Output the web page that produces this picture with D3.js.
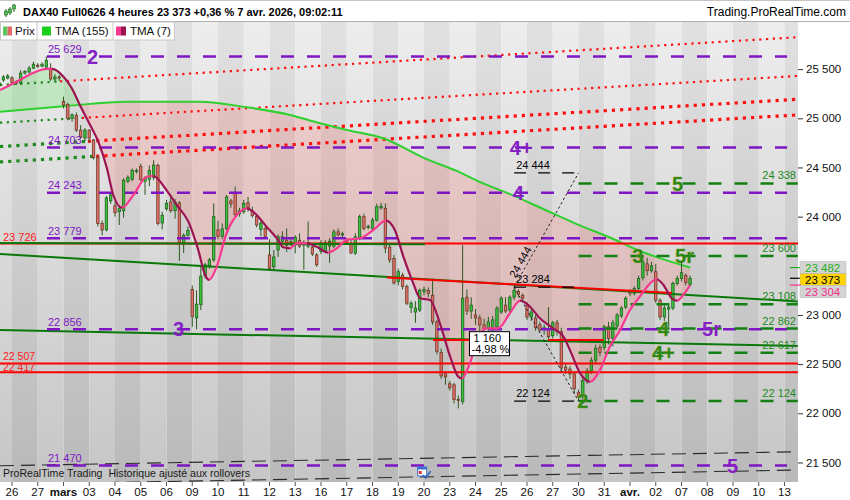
<!DOCTYPE html>
<html lang="fr">
<head>
<meta charset="utf-8">
<title>DAX40 Full0626 4 heures</title>
<script src="https://cdn.jsdelivr.net/npm/d3@7/dist/d3.min.js"></script>
<style>
  body { margin: 0; background: #fff; }
  svg { display: block; font-family: "Liberation Sans", Arial, sans-serif; }
</style>
</head>
<body>
<svg id="chart" width="850" height="500"></svg>
<script>
// ---- values ----
var title = "DAX40 Full0626 4 heures 23 373 +0,36 % 7 avr. 2026, 09:02:11";
var site = "Trading.ProRealTime.com";
var footer = "ProRealTime Trading  Historique ajusté aux rollovers";

// 4 hour bars, 6 per trading day, bar 0 = first bar of 25 Feb
var firstBar = 3;
// [open, high, low, close]
var candles = [
  [25330,25380,25300,25360],[25390,25440,25370,25420],[25410,25450,25395,25430],
  // 26 feb
  [25410,25430,25340,25360],[25375,25390,25340,25355],[25360,25490,25340,25460],
  [25460,25490,25445,25475],[25470,25530,25460,25510],[25510,25575,25500,25550],
  // 27 feb
  [25540,25560,25510,25530],[25530,25570,25520,25550],[25520,25629,25500,25590],
  [25510,25560,25380,25400],[25400,25450,25380,25420],[25420,25440,25380,25410],
  // 2 mars
  [25170,25220,25100,25135],[25140,25160,24980,25000],[25000,25050,24965,25035],
  [25030,25060,24860,24880],[24880,24930,24790,24810],[24800,24900,24770,24880],
  // 3
  [24880,24890,24760,24800],[24780,24790,24580,24600],[24600,24620,23900,23930],
  [23930,23960,23810,23865],[23865,24210,23850,24190],[24160,24240,24130,24220],
  // 4
  [24110,24150,24000,24040],[24050,24110,23915,24080],[24060,24390,23990,24370],
  [24360,24420,24340,24400],[24380,24490,24360,24470],[24460,24490,24440,24470],
  // 5
  [24510,24540,24360,24380],[24360,24410,24220,24390],[24380,24520,24310,24470],
  [24400,24575,24370,24525],[24520,24540,23910,23930],[23935,24050,23870,24015],
  // 6
  [24080,24170,24060,24135],[24150,24220,24040,24060],[24060,24180,23980,24145],
  [24140,24160,23550,23730],[23730,23830,23630,23810],[23810,23900,23800,23860],
  // 9
  [23260,23300,22880,22985],[22970,23250,22856,23110],[23105,23505,23050,23395],
  [23400,23530,23370,23510],[23500,23580,23470,23560],[23560,24135,23540,24000],
  // 10
  [23865,23960,23770,23800],[23800,23930,23770,23875],[23880,24220,23860,24200],
  [24160,24180,24090,24130],[24240,24305,24000,24020],[24030,24090,24000,24060],
  // 11
  [24050,24170,24030,24135],[24140,24200,24050,24090],[24060,24100,23990,24010],
  [24000,24020,23890,23915],[23870,23960,23800,23935],[23880,23900,23780,23800],
  // 12
  [23610,23770,23460,23475],[23490,23660,23450,23590],[23660,23820,23590,23795],
  [23750,23850,23720,23795],[23760,23880,23640,23710],[23720,23770,23700,23745],
  // 13
  [23712,23810,23627,23790],[23760,23830,23680,23700],[23710,23760,23460,23730],
  [23700,23950,23680,23735],[23690,23720,23600,23620],[23610,23630,23490,23510],
  // 16
  [23645,23760,23620,23730],[23650,23760,23630,23735],[23700,23780,23530,23750],
  [23700,23870,23680,23845],[23845,23880,23800,23815],[23815,23845,23790,23825],
  // 17
  [23760,23780,23720,23740],[23730,23760,23620,23630],[23630,23830,23610,23795],
  [23780,24020,23760,24000],[24000,24030,23860,23880],[23890,23920,23870,23900],
  // 18
  [23880,23990,23860,23965],[23965,24130,23950,24100],[24090,24140,24070,24105],
  [24085,24135,23630,23680],[23690,23710,23530,23560],[23575,23610,23310,23325],
  // 19
  [23340,23470,23300,23440],[23405,23430,23260,23290],[23290,23310,23100,23120],
  [23075,23140,23020,23120],[23030,23140,22920,23070],[23050,23270,23030,23250],
  // 20
  [23240,23290,23200,23260],[23250,23280,23180,23220],[23200,23370,22900,22930],
  [22930,22950,22600,22630],[22620,22660,22350,22380],[22400,22430,22290,22370],
  // 23
  [22300,22330,22230,22260],[22290,22310,22100,22140],[22140,22180,22050,22130],
  [22120,23710,22090,23170],[23180,23260,23000,23040],[23040,23180,22960,23100],
  // 24
  [23000,23060,22900,22970],[22970,23000,22830,22900],[22900,22960,22780,22860],
  [22860,22980,22800,22930],[22850,22990,22820,22950],[22880,23090,22860,23070],
  // 25
  [23030,23190,23010,23170],[23100,23180,23020,23040],[23050,23200,23030,23180],
  [23180,23284,23150,23250],[23240,23260,23180,23210],[23200,23220,23130,23170],
  // 26
  [23100,23130,22950,22980],[22980,23060,22940,23030],[22970,23000,22840,22870],
  [22900,22930,22820,22850],[22850,22900,22800,22870],[22850,23080,22750,22780],
  // 27
  [22790,22940,22760,22920],[22920,22950,22790,22830],[22830,22870,22430,22460],
  [22470,22500,22400,22440],[22450,22480,22350,22400],[22400,22420,22200,22250],
  // 30
  [22210,22240,22124,22170],[22170,22360,22140,22330],[22330,22460,22300,22430],
  [22430,22570,22400,22540],[22540,22700,22510,22660],[22670,22700,22580,22620],
  // 31
  [22670,22900,22640,22880],[22880,22930,22700,22760],[22760,22950,22680,22920],
  [22890,23020,22870,23000],[22990,23090,22970,23070],[23080,23190,23060,23170],
  // 1 avr
  [23250,23260,23190,23220],[23220,23290,23200,23270],[23270,23400,23250,23370],
  [23380,23600,23350,23540],[23520,23580,23400,23450],[23450,23540,23430,23500],
  // 2
  [23440,23520,23120,23150],[23150,23170,22950,22980],[22980,23100,22940,23070],
  [23060,23110,22880,23080],[23070,23340,23050,23320],[23320,23400,23300,23370],
  // 7
  [23370,23530,23340,23430],[23400,23420,23300,23330],[23310,23400,23290,23373]
];

var dayLabels = ["26","27","mars","03","04","05","06","09","10","11","12","13","16","17","18",
  "19","20","23","24","25","26","27","30","31","avr.","02","07","08","09","10","13"];
var monthLabels = ["mars", "avr."];
var priceTicks = [21500, 22000, 22500, 23000, 24000, 24500, 25000, 25500];

// [bar, value]
var tma155 = [[3.2,25067],[18.7,25125],[32.7,25169],[49.8,25169],[60.7,25112],[70.8,25034],
  [77.8,24949],[84.0,24881],[92.5,24797],[102.2,24593],[110.0,24457],[115.4,24345],[121.6,24237],
  [129.4,24085],[137.2,23932],[145.7,23780],[152.7,23643],[158.2,23560],[164.0,23482]];
var tma7 = [[3.2,25288],[7.1,25372],[10.9,25461],[14.1,25502],[15.3,25502],[18.0,25423],[19.9,25308],
  [21.8,25136],[24.2,24932],[26.1,24763],[28.1,24495],[29.6,24220],[31.6,24091],[34.3,24220],
  [37.4,24406],[38.9,24413],[42.0,24270],[44.4,24117],[47.1,23949],[49.4,23661],[51.0,23407],
  [51.9,23356],[53.7,23491],[56.0,23831],[58.4,24017],[60.7,24085],[62.6,24034],[65.3,23898],
  [68.0,23763],[69.2,23688],[70.8,23678],[72.3,23729],[74.7,23729],[77.0,23694],[79.7,23633],
  [81.7,23678],[84.0,23763],[87.1,23780],[90.2,23864],[93.1,23959],[95.2,23864],[97.2,23593],
  [99.5,23322],[101.1,23170],[103.4,23152],[105.7,22915],[108.1,22576],[110.0,22372],[110.8,22356],
  [112.7,22509],[114.7,22779],[116.6,22864],[119.3,22864],[122.0,23017],[124.4,23145],[126.7,23084],
  [129.0,22966],[132.1,22864],[134.5,22779],[136.0,22644],[138.4,22407],[140.7,22321],[143.0,22440],
  [145.3,22677],[147.7,22847],[150.0,23051],[152.3,23186],[154.7,23322],[156.2,23363],[157.8,23305],
  [159.7,23170],[160.9,23145],[162.4,23203],[164.0,23304]];

var purpleLevels = [25629, 24703, 24243, 23779, 22856, 21470];
var purpleSpan = [14.15, 186.6];
var greenLevels = [24338, 23600, 23108, 22862, 22617, 22124];
var greenSpan = [138, 189.1];
var redLevels = [23726, 22507, 22417];

// [text, bar, value]
var purpleWaves = [["2",23.5,25629],["4+",122.0,24703],["4",122.7,24243],["3",43.5,22856],
  ["5r",166.8,22856],["5",172.6,21470]];
var greenWaves = [["5",159.8,24338],["3",150.5,23600],["5r",160.5,23600],["4",156.5,22862],
  ["4+",155.1,22617],["2",137.7,22124]];

var measure = { from: 123, to: 138, base: 23284, low: 22124, target: 24444, boxBar: 112.6, boxValue: 22830 };

// [bar0, value0, bar1, value1]
var greenTrends = [[3.2,23620,189.1,23137],[3.2,22847,189.1,22684],[3.2,23733,102.2,23718]];
var redTrends = [[93.4,23381,159.8,23223],[104.1,22745,114.3,22745],[130.9,22745,143.9,22745]];
// [bar0, value0, bar1, value1, bar where colour turns from green to red]
var dottedLines = [[3.2,25339,188.9,25824,17.2],[3.2,24955,188.9,25430,22.3],
  [3.2,24713,188.9,25193,23.7],[3.2,24556,188.9,25034,25.6]];
var channelLines = [[3.2,21467,189.1,21609],[3.2,21275,189.1,21423]];

var lastTma155 = 23482, lastPrice = 23373, lastTma7 = 23304;

// ---- layout ----
var plot = { l: 0, r: 798, t: 22, b: 482 };
var svg = d3.select("#chart");
var fmt = d3.formatLocale({ decimal: ",", thousands: " ", grouping: [3], currency: ["", ""] }).format(",d");

var x = d3.scaleLinear().domain([6, 186]).range([12, 784.5]);
var y = d3.scaleLinear().domain([22000, 25000]).range([413.3, 118.3]);

var purple = "#7e16c4", dkGreen = "#128012", waveGreen = "#23880f";

var defs = svg.append("defs");
defs.append("clipPath").attr("id", "plotClip").append("rect")
  .attr("x", plot.l).attr("y", plot.t).attr("width", plot.r - plot.l).attr("height", plot.b - plot.t);

function band(id, top, bottom) {
  var g = defs.append("linearGradient").attr("id", id)
    .attr("gradientUnits", "userSpaceOnUse").attr("x1", 0).attr("y1", plot.t).attr("x2", 0).attr("y2", plot.b);
  g.append("stop").attr("offset", 0).attr("stop-color", top);
  g.append("stop").attr("offset", 1).attr("stop-color", bottom);
}
band("bandLight", "#ededed", "#c6c6c6");
band("bandDark", "#e1e1e1", "#b9b9b9");

var curve = d3.curveMonotoneX;
defs.append("clipPath").attr("id", "aboveSlow").append("path")
  .attr("d", d3.area().x(function(d) { return x(d[0]); }).y0(plot.t).y1(function(d) { return y(d[1]); }).curve(curve)(tma155));
defs.append("clipPath").attr("id", "aboveFast").append("path")
  .attr("d", d3.area().x(function(d) { return x(d[0]); }).y0(plot.t).y1(function(d) { return y(d[1]); }).curve(curve)(tma7));

// TMA(7) colour: pink while rising, maroon while falling
var rising = "#f7398f", falling = "#9c1352";
var grad = defs.append("linearGradient").attr("id", "tma7Color")
  .attr("gradientUnits", "userSpaceOnUse").attr("x1", plot.l).attr("y1", 0).attr("x2", plot.r).attr("y2", 0);
var dirs = [];
for (var k = 1; k < tma7.length; k++) {
  var dv = tma7[k][1] - tma7[k - 1][1];
  dirs.push(dv > 0 ? 1 : dv < 0 ? -1 : (dirs.length ? dirs[dirs.length - 1] : 1));
}
grad.append("stop").attr("offset", 0).attr("stop-color", dirs[0] > 0 ? rising : falling);
for (var k = 1; k < dirs.length; k++) {
  if (dirs[k] !== dirs[k - 1]) {
    var off = x(tma7[k][0]) / plot.r;
    grad.append("stop").attr("offset", off).attr("stop-color", dirs[k - 1] > 0 ? rising : falling);
    grad.append("stop").attr("offset", off).attr("stop-color", dirs[k] > 0 ? rising : falling);
  }
}
grad.append("stop").attr("offset", 1).attr("stop-color", dirs[dirs.length - 1] > 0 ? rising : falling);

// ---- plot area ----
var g = svg.append("g").attr("clip-path", "url(#plotClip)");

// day bands
d3.range(0, 32).forEach(function(k) {
  var x0 = Math.max(plot.l, x(6 * k)), x1 = Math.min(plot.r, x(6 * k + 6));
  if (x1 <= x0) return;
  g.append("rect").attr("x", x0).attr("y", plot.t).attr("width", x1 - x0).attr("height", plot.b - plot.t)
    .attr("fill", k % 2 === 0 ? "url(#bandLight)" : "url(#bandDark)");
});

// fill between the two averages
g.append("path")
  .attr("d", d3.area().x(function(d) { return x(d[0]); }).y0(plot.b).y1(function(d) { return y(d[1]); }).curve(curve)(tma7))
  .attr("clip-path", "url(#aboveSlow)")
  .attr("fill", "rgba(70,225,70,0.24)");
g.append("path")
  .attr("d", d3.area().x(function(d) { return x(d[0]); }).y0(plot.b).y1(function(d) { return y(d[1]); }).curve(curve)(tma155))
  .attr("clip-path", "url(#aboveFast)")
  .attr("fill", "rgba(255,105,105,0.22)");

// dotted sloping lines, green then red
dottedLines.forEach(function(l, k) {
  var slope = (l[3] - l[1]) / (l[2] - l[0]);
  var vs = l[1] + slope * (l[4] - l[0]);
  var w = k >= 2 ? 3.2 : 2.2, dash = k >= 2 ? "3.2,5" : "2.2,4.6";
  g.append("line").attr("x1", x(l[0])).attr("y1", y(l[1])).attr("x2", x(l[4])).attr("y2", y(vs))
    .attr("stroke", "#1c8a1c").attr("stroke-width", w).attr("stroke-dasharray", dash);
  g.append("line").attr("x1", x(l[4])).attr("y1", y(vs)).attr("x2", x(l[2])).attr("y2", y(l[3]))
    .attr("stroke", "#ff1010").attr("stroke-width", w).attr("stroke-dasharray", dash);
});

// bottom channel
channelLines.forEach(function(l) {
  g.append("line").attr("x1", x(l[0])).attr("y1", y(l[1])).attr("x2", x(l[2])).attr("y2", y(l[3]))
    .attr("stroke", "#2a2a2a").attr("stroke-width", 1.1).attr("stroke-dasharray", "14,7");
});

// TMA(155)
g.append("path").datum(tma155)
  .attr("d", d3.line().x(function(d) { return x(d[0]); }).y(function(d) { return y(d[1]); }).curve(curve))
  .attr("fill", "none").attr("stroke", "#2ed02e").attr("stroke-width", 2);

// candles
var cw = 2.4;
candles.forEach(function(c, j) {
  var cx = x(firstBar + j), up = c[3] >= c[0];
  g.append("line").attr("x1", cx).attr("x2", cx).attr("y1", y(c[1])).attr("y2", y(c[2]))
    .attr("stroke", "#2b5a1f").attr("stroke-width", 1);
  var top = y(Math.max(c[0], c[3])), bot = y(Math.min(c[0], c[3]));
  g.append("rect").attr("x", cx - cw / 2).attr("y", top).attr("width", cw).attr("height", Math.max(1, bot - top))
    .attr("fill", up ? "#3cc23c" : "#e4706a")
    .attr("stroke", up ? "#1d641d" : "#6a3a26").attr("stroke-width", 0.8);
});

// horizontal levels
redLevels.forEach(function(v) {
  g.append("line").attr("x1", plot.l).attr("x2", plot.r).attr("y1", y(v)).attr("y2", y(v))
    .attr("stroke", "#ff0000").attr("stroke-width", 2);
});
greenTrends.forEach(function(l) {
  g.append("line").attr("x1", x(l[0])).attr("y1", y(l[1])).attr("x2", x(l[2])).attr("y2", y(l[3]))
    .attr("stroke", "#0a780a").attr("stroke-width", 2);
});
redTrends.forEach(function(l) {
  g.append("line").attr("x1", x(l[0])).attr("y1", y(l[1])).attr("x2", x(l[2])).attr("y2", y(l[3]))
    .attr("stroke", "#ff0000").attr("stroke-width", 2);
});
purpleLevels.forEach(function(v) {
  g.append("line").attr("x1", x(purpleSpan[0])).attr("x2", x(purpleSpan[1])).attr("y1", y(v)).attr("y2", y(v))
    .attr("stroke", purple).attr("stroke-width", 2.5).attr("stroke-dasharray", "13,13");
});
greenLevels.forEach(function(v) {
  g.append("line").attr("x1", x(greenSpan[0])).attr("x2", x(greenSpan[1])).attr("y1", y(v)).attr("y2", y(v))
    .attr("stroke", dkGreen).attr("stroke-width", 2.5).attr("stroke-dasharray", "13,13");
});

// measurement: dotted legs and black dashed targets
[measure.target, measure.low].forEach(function(v) {
  g.append("line").attr("x1", x(measure.from)).attr("y1", y(measure.base)).attr("x2", x(measure.to)).attr("y2", y(v))
    .attr("stroke", "#222").attr("stroke-width", 1).attr("stroke-dasharray", "2.5,2.5");
});
[measure.target, measure.base, measure.low].forEach(function(v) {
  g.append("line").attr("x1", x(measure.from)).attr("x2", x(measure.to)).attr("y1", y(v)).attr("y2", y(v))
    .attr("stroke", "#000").attr("stroke-width", 1.2).attr("stroke-dasharray", "12,12");
  g.append("text").attr("x", x(measure.from) + 2).attr("y", y(v) - 4)
    .attr("font-size", 11).attr("fill", "#000").text(fmt(v));
});
var ang = Math.atan2(y(measure.target) - y(measure.base), x(measure.to) - x(measure.from)) * 180 / Math.PI;
var lx = x(measure.from) + 0.19 * (x(measure.to) - x(measure.from));
var ly = y(measure.base) + 0.19 * (y(measure.target) - y(measure.base));
g.append("text").attr("transform", "translate(" + lx + "," + ly + ") rotate(" + ang + ")")
  .attr("text-anchor", "middle").attr("dy", -3).attr("font-size", 11).attr("fill", "#000").text(fmt(measure.target));

// TMA(7)
g.append("path").datum(tma7)
  .attr("d", d3.line().x(function(d) { return x(d[0]); }).y(function(d) { return y(d[1]); }).curve(curve))
  .attr("fill", "none").attr("stroke", "url(#tma7Color)").attr("stroke-width", 2.2);

// measurement box
var diff = measure.base - measure.low;
var pct = (-diff / measure.base * 100).toFixed(2).replace(".", ",") + " %";
var bx = x(measure.boxBar), by = y(measure.boxValue);
g.append("rect").attr("x", bx).attr("y", by).attr("width", 40).attr("height", 24)
  .attr("fill", "#fff").attr("stroke", "#000").attr("stroke-width", 1);
g.append("text").attr("x", bx + 4).attr("y", by + 10).attr("font-size", 11).text(fmt(diff));
g.append("text").attr("x", bx + 2).attr("y", by + 21).attr("font-size", 11).text(pct);

// level labels
purpleLevels.forEach(function(v) {
  g.append("text").attr("x", x(purpleSpan[0]) + 1).attr("y", y(v) - 3.5)
    .attr("font-size", 11).attr("fill", purple).text(fmt(v));
});
redLevels.forEach(function(v, k) {
  g.append("text").attr("x", 3).attr("y", y(v) - (k === 2 ? 1 : 3))
    .attr("font-size", k === 0 ? 11 : 10.5).attr("fill", "#ff1a1a").text(fmt(v));
});
greenLevels.forEach(function(v) {
  g.append("text").attr("x", plot.r - 2).attr("y", y(v) - 4).attr("text-anchor", "end")
    .attr("font-size", 11).attr("fill", "#1b8a1b").text(fmt(v));
});
purpleWaves.forEach(function(w) {
  g.append("text").attr("x", x(w[1])).attr("y", y(w[2])).attr("dy", "0.36em")
    .attr("font-size", 20).attr("font-weight", "bold").attr("fill", "#8420c4").text(w[0]);
});
greenWaves.forEach(function(w) {
  g.append("text").attr("x", x(w[1])).attr("y", y(w[2])).attr("dy", "0.36em")
    .attr("font-size", 20).attr("font-weight", "bold").attr("fill", waveGreen)
    .attr("stroke", "#8f9a2a").attr("stroke-width", 0.35).text(w[0]);
});

// footer text and event icon
g.append("text").attr("x", 3).attr("y", plot.b - 5).attr("font-size", 11).attr("fill", "#1a1a1a")
  .attr("textLength", 247).attr("lengthAdjust", "spacingAndGlyphs")
  .style("white-space", "pre").text(footer);
var ic = g.append("g").attr("transform", "translate(" + x(101) + "," + (plot.b - 15) + ")");
ic.append("rect").attr("x", -2).attr("y", 0).attr("width", 9).attr("height", 9).attr("fill", "#fff").attr("stroke", "#3a70d0");
ic.append("rect").attr("x", -2).attr("y", 0).attr("width", 9).attr("height", 2.5).attr("fill", "#3a70d0");
ic.append("rect").attr("x", -1).attr("y", 4).attr("width", 3).attr("height", 3).attr("fill", "#e03030");
ic.append("path").attr("d", "M3,8 L6,11 L11,4").attr("fill", "none").attr("stroke", "#2a60c0").attr("stroke-width", 1.3);

// ---- price axis ----
svg.append("rect").attr("x", plot.r).attr("y", plot.t).attr("width", 850 - plot.r).attr("height", plot.b - plot.t).attr("fill", "#fff");
var yAxis = svg.append("g").attr("transform", "translate(" + plot.r + ",0)")
  .call(d3.axisRight(y).tickValues(priceTicks).tickFormat(fmt).tickSize(5).tickPadding(3));
yAxis.select(".domain").remove();
yAxis.selectAll("text").attr("font-size", 11.5).attr("font-family", "Liberation Sans, Arial, sans-serif").attr("fill", "#111");
yAxis.selectAll("line").attr("stroke", "#333");

var boxes = [
  { v: lastTma155, fill: "#d4d4d4", text: "#1fae1f" },
  { v: lastPrice, fill: "#ffd400", text: "#000" },
  { v: lastTma7, fill: "#d4d4d4", text: "#f0308a" }
];
var prevBottom = -Infinity;
boxes.forEach(function(b) {
  var cy = Math.max(y(b.v), prevBottom + 6);
  prevBottom = cy + 6;
  svg.append("line").attr("x1", plot.r - 8).attr("x2", plot.r + 3).attr("y1", y(b.v)).attr("y2", y(b.v))
    .attr("stroke", b.text).attr("stroke-width", 1.2);
  svg.append("rect").attr("x", plot.r + 2).attr("y", cy - 6).attr("width", 46).attr("height", 12)
    .attr("fill", b.fill).attr("stroke", "#b8b8b8").attr("stroke-width", 0.6);
  svg.append("text").attr("x", plot.r + 7).attr("y", cy + 4.5).attr("font-size", 11.5).attr("fill", b.text).text(fmt(b.v));
});

// ---- time axis ----
svg.append("rect").attr("x", 0).attr("y", plot.b).attr("width", 850).attr("height", 500 - plot.b).attr("fill", "#fff");
dayLabels.forEach(function(lab, m) {
  var tx = x(6 * (m + 1));
  svg.append("line").attr("x1", tx).attr("x2", tx).attr("y1", plot.b).attr("y2", plot.b + 4)
    .attr("stroke", "#555").attr("stroke-width", 1);
  svg.append("text").attr("x", tx).attr("y", plot.b + 14).attr("text-anchor", "middle")
    .attr("font-size", 11.5).attr("fill", "#111")
    .attr("font-weight", monthLabels.indexOf(lab) >= 0 ? "bold" : "normal").text(lab);
});

// ---- header ----
svg.append("rect").attr("x", 0).attr("y", 0).attr("width", 850).attr("height", plot.t - 1).attr("fill", "#fff");
svg.append("line").attr("x1", 0).attr("x2", 850).attr("y1", 0.5).attr("y2", 0.5).attr("stroke", "#c4c4c4");
svg.append("line").attr("x1", 0).attr("x2", 850).attr("y1", plot.t - 0.5).attr("y2", plot.t - 0.5).attr("stroke", "#b0b0b0");
[[6, 9, 17, 11, 15], [10, 7, 15, 9, 13], [14, 4, 12, 5, 9]].forEach(function(c) {
  svg.append("line").attr("x1", c[0]).attr("x2", c[0]).attr("y1", c[1]).attr("y2", c[2]).attr("stroke", "#2b6a2b");
  svg.append("rect").attr("x", c[0] - 1.5).attr("y", c[3]).attr("width", 3).attr("height", c[4] - c[3])
    .attr("fill", "#4cbf4c").attr("stroke", "#2b6a2b").attr("stroke-width", 0.6);
});
svg.append("text").attr("x", 23).attr("y", 15.5).attr("font-size", 11).attr("font-weight", "bold").attr("fill", "#000").text(title);
svg.append("text").attr("x", 846).attr("y", 16).attr("text-anchor", "end").attr("font-size", 12).attr("fill", "#000").text(site);

// ---- legend ----
var lg = svg.append("g");
lg.append("rect").attr("x", 0.5).attr("y", plot.t).attr("width", 174).attr("height", 18)
  .attr("fill", "#fff").attr("stroke", "#c8c8c8");
[37, 113].forEach(function(sx) {
  lg.append("line").attr("x1", sx).attr("x2", sx).attr("y1", plot.t).attr("y2", plot.t + 18).attr("stroke", "#c8c8c8");
});
lg.append("rect").attr("x", 3).attr("y", 26.5).attr("width", 4.5).attr("height", 9).attr("fill", "#5cc65c");
lg.append("rect").attr("x", 7.5).attr("y", 26.5).attr("width", 4.5).attr("height", 9).attr("fill", "#e46a6a");
lg.append("rect").attr("x", 42).attr("y", 26.5).attr("width", 9).attr("height", 9).attr("fill", "#1ccf1c");
lg.append("rect").attr("x", 116).attr("y", 26.5).attr("width", 5).attr("height", 9).attr("fill", "#f7398f");
lg.append("rect").attr("x", 121).attr("y", 26.5).attr("width", 5).attr("height", 9).attr("fill", "#9c1352");
[["Prix", 15], ["TMA (155)", 55], ["TMA (7)", 130]].forEach(function(t) {
  lg.append("text").attr("x", t[1]).attr("y", 35).attr("font-size", 11.5).attr("fill", "#111").text(t[0]);
});
</script>
</body>
</html>
